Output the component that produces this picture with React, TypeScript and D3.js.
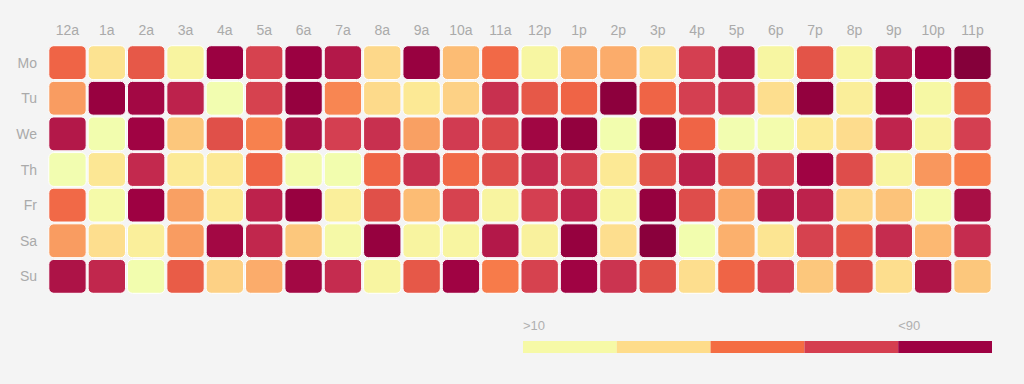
import React, { useEffect, useRef } from 'react';
import * as d3 from 'd3';

const hours = ['12a', '1a', '2a', '3a', '4a', '5a', '6a', '7a', '8a', '9a', '10a', '11a',
  '12p', '1p', '2p', '3p', '4p', '5p', '6p', '7p', '8p', '9p', '10p', '11p'];
const days = ['Mo', 'Tu', 'We', 'Th', 'Fr', 'Sa', 'Su'];

const mo = [57, 25, 60, 13, 91, 66, 91, 80, 30, 92, 38, 56, 11, 43, 42, 25, 67, 79, 11, 61, 12, 81, 90, 99];
const tu = [46, 92, 87, 76, 1, 66, 93, 50, 29, 22, 32, 71, 60, 57, 96, 57, 67, 70, 27, 94, 18, 88, 9, 60];
const we = [80, 2, 89, 35, 62, 51, 83, 67, 71, 45, 68, 64, 88, 94, 2, 94, 57, 1, 3, 22, 28, 75, 13, 67];
const th = [1, 23, 73, 21, 22, 57, 4, 2, 57, 71, 56, 63, 72, 66, 22, 62, 77, 62, 66, 89, 63, 12, 47, 52];
const fr = [56, 6, 90, 45, 21, 76, 92, 17, 62, 38, 66, 13, 67, 75, 12, 93, 63, 43, 80, 76, 30, 36, 6, 84];
const sa = [46, 27, 17, 46, 87, 74, 35, 7, 93, 13, 12, 80, 15, 93, 27, 97, 2, 41, 24, 66, 60, 72, 39, 72];
const su = [82, 74, 2, 59, 32, 42, 87, 72, 12, 60, 89, 52, 66, 89, 70, 62, 27, 57, 67, 35, 62, 27, 81, 35];
const values = [mo, tu, we, th, fr, sa, su];

const colorStops = [0, 10, 22, 30, 38, 46, 52, 57, 62, 67, 72, 77, 83, 90, 100];
const colorRange = ['#f1feb1', '#f7f7a3', '#fce995', '#fdd88a', '#fcbc74', '#f99c61', '#f77b4a',
  '#ef6446', '#e05049', '#d43f51', '#c52c4f', '#bb1f4b', '#aa1146', '#9e0142', '#820039'];

const legendColors = ['#f6f9a6', '#fedc8a', '#f46d43', '#d53e4f', '#9e0142'];
const legendLabels = ['>10', '<90'];

const App = () => {
  const ref = useRef<SVGSVGElement>(null);

  useEffect(() => {
    const svg = d3.select(ref.current);
    svg.selectAll('*').remove();
    const width = 1024, height = 384;
    const font = '"Helvetica Neue", Helvetica, Arial, "Liberation Sans", sans-serif';

    svg.append('rect').attr('width', width).attr('height', height).attr('fill', '#f4f4f4');

    const x = d3.scaleBand().domain(hours).range([48, 992]).paddingInner(0.05).paddingOuter(0.02);
    const y = d3.scaleBand().domain(days).range([45, 294]).paddingInner(0.05).paddingOuter(0.02);
    const color = d3.scaleLinear<string>().domain(colorStops).range(colorRange);

    const cells = days.flatMap((d, j) => hours.map((h, i) => ({ day: d, hour: h, value: values[j][i] })));

    svg.append('g')
      .selectAll('rect')
      .data(cells)
      .enter()
      .append('rect')
      .attr('x', (d) => x(d.hour) ?? 0)
      .attr('y', (d) => y(d.day) ?? 0)
      .attr('width', x.bandwidth())
      .attr('height', y.bandwidth())
      .attr('rx', 5)
      .attr('fill', (d) => color(d.value))
      .attr('stroke', '#fff')
      .attr('stroke-width', 1);

    // hour labels
    svg.append('g')
      .selectAll('text')
      .data(hours)
      .enter()
      .append('text')
      .attr('x', (d) => (x(d) ?? 0) + x.bandwidth() / 2)
      .attr('y', 35)
      .attr('text-anchor', 'middle')
      .attr('font-family', font)
      .attr('font-size', 14)
      .attr('fill', '#aaa')
      .text((d) => d);

    // day labels
    svg.append('g')
      .selectAll('text')
      .data(days)
      .enter()
      .append('text')
      .attr('x', 37)
      .attr('y', (d) => (y(d) ?? 0) + y.bandwidth() / 2 + 5)
      .attr('text-anchor', 'end')
      .attr('font-family', font)
      .attr('font-size', 14)
      .attr('fill', '#aaa')
      .text((d) => d);

    // legend
    const lx = d3.scaleBand<number>().domain(d3.range(legendColors.length)).range([523, 992]);
    svg.append('g')
      .selectAll('rect')
      .data(legendColors)
      .enter()
      .append('rect')
      .attr('x', (_, i) => lx(i) ?? 0)
      .attr('y', 341)
      .attr('width', lx.bandwidth())
      .attr('height', 12)
      .attr('fill', (d) => d);

    svg.append('text')
      .attr('x', 523)
      .attr('y', 330)
      .attr('font-family', font)
      .attr('font-size', 13)
      .attr('fill', '#b0b0b0')
      .text(legendLabels[0]);
    svg.append('text')
      .attr('x', lx(legendColors.length - 1) ?? 0)
      .attr('y', 330)
      .attr('font-family', font)
      .attr('font-size', 13)
      .attr('fill', '#b0b0b0')
      .text(legendLabels[1]);
  }, []);

  return (
    <svg
      ref={ref}
      width={1024}
      height={384}
      style={{ position: 'absolute', left: 0, top: 0, display: 'block' }}
    />
  );
};

export default App;
